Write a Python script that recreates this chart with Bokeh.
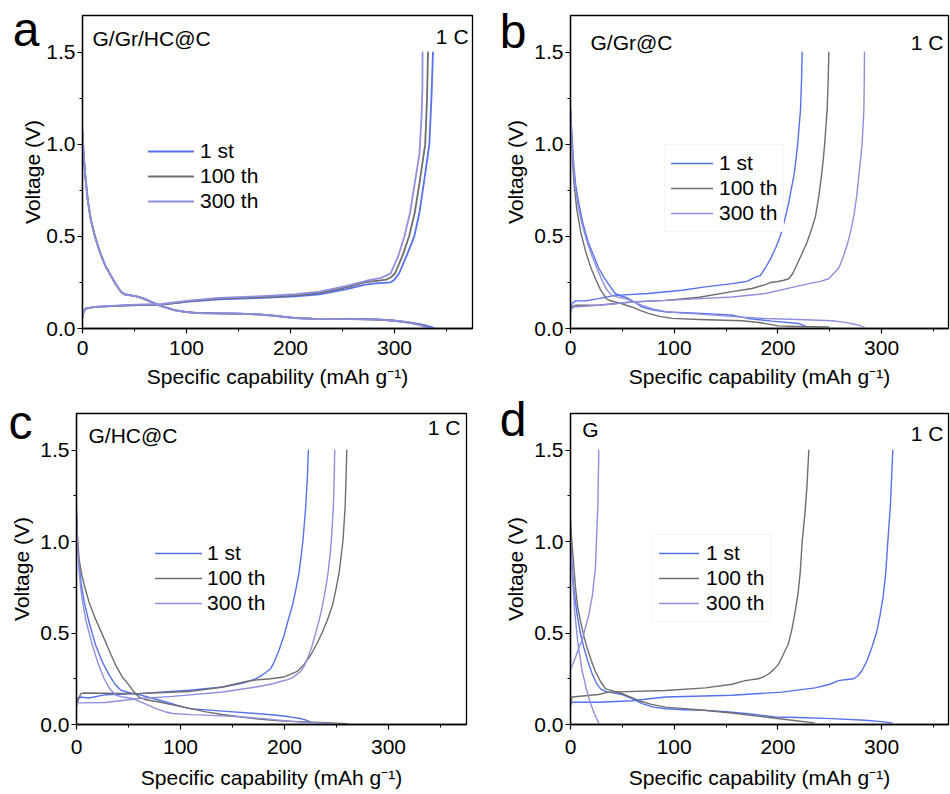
from bokeh.plotting import figure
from bokeh.models import (Range1d, FixedTicker, PrintfTickFormatter, Label, LinearAxis,
                          Legend, LegendItem, ColumnDataSource)
from bokeh.layouts import row, column
from bokeh.embed import file_html
from bokeh.resources import INLINE

FONT = "Liberation Sans"
SERIES = ["1 st", "100 th", "300 th"]
COLORS = ["#5672F0", "#6E6E6E", "#8F90DD"]
X_TICKS = [0, 100, 200, 300]
X_MINOR = [50, 150, 250, 350]
Y_TICKS = [0.0, 0.5, 1.0, 1.5]
Y_MINOR = [0.25, 0.75, 1.25]
X_LABEL = "Specific capability (mAh g\u207b\u00b9)"
Y_LABEL = "Voltage (V)"

# ---------------- panel a : G/Gr/HC@C ----------------
a_1st_dis = [(0, 1.07), (1, 0.95), (2.5, 0.84), (5, 0.70), (8, 0.59), (12, 0.50), (17, 0.41), (22, 0.34),
             (27, 0.29), (32, 0.24), (37, 0.20), (40, 0.187), (46, 0.181), (52, 0.175), (58, 0.165),
             (64, 0.15), (70, 0.135), (77, 0.12), (89, 0.10), (100, 0.09), (110, 0.085), (150, 0.081),
             (170, 0.077), (185, 0.07), (195, 0.063), (205, 0.057), (221, 0.054), (260, 0.052),
             (285, 0.049), (300, 0.043), (311, 0.036), (320, 0.028), (328, 0.02), (337, 0.005)]
a_100_dis = [(0, 1.07), (1, 0.95), (2.5, 0.84), (5, 0.70), (8, 0.59), (12, 0.50), (17, 0.41), (22, 0.34),
             (27, 0.29), (32, 0.24), (37, 0.20), (40, 0.186), (46, 0.18), (52, 0.174), (58, 0.164),
             (64, 0.149), (70, 0.134), (77, 0.119), (89, 0.099), (100, 0.089), (110, 0.084), (150, 0.08),
             (170, 0.076), (185, 0.069), (195, 0.062), (205, 0.056), (221, 0.053), (260, 0.051),
             (285, 0.048), (300, 0.042), (311, 0.034), (320, 0.026), (327, 0.017), (333, 0.005)]
a_300_dis = [(0, 1.07), (1, 0.95), (2.5, 0.84), (5, 0.70), (8, 0.59), (12, 0.50), (17, 0.41), (22, 0.34),
             (27, 0.29), (32, 0.24), (37, 0.20), (40, 0.186), (46, 0.18), (52, 0.174), (58, 0.164),
             (64, 0.149), (70, 0.134), (77, 0.119), (89, 0.099), (100, 0.089), (110, 0.084), (150, 0.08),
             (170, 0.076), (185, 0.069), (195, 0.062), (205, 0.056), (221, 0.053), (260, 0.051),
             (285, 0.048), (300, 0.042), (311, 0.034), (319, 0.025), (326, 0.015), (332, 0.005)]
a_1st_chg = [(0, 0.06), (1, 0.09), (3, 0.108), (12, 0.117), (44, 0.126), (76, 0.13), (102, 0.146),
             (131, 0.158), (173, 0.166), (205, 0.174), (228, 0.185), (253, 0.212), (272, 0.238),
             (282, 0.245), (296, 0.25), (300, 0.265), (304.5, 0.3), (312, 0.4), (319, 0.5), (324, 0.63),
             (328.5, 0.8), (333.5, 1.0), (335.5, 1.25), (337, 1.5)]
a_100_chg = [(0, 0.06), (1, 0.09), (3, 0.108), (12, 0.117), (44, 0.126), (76, 0.13), (102, 0.148),
             (131, 0.162), (173, 0.171), (205, 0.18), (228, 0.193), (253, 0.222), (272, 0.252),
             (285, 0.26), (292, 0.265), (297, 0.28), (300.6, 0.3), (308, 0.4), (314, 0.5), (319.5, 0.63),
             (324.3, 0.8), (329.5, 1.0), (331.3, 1.25), (332.2, 1.5)]
a_300_chg = [(0, 0.06), (1, 0.09), (3, 0.108), (12, 0.118), (44, 0.128), (76, 0.133), (102, 0.151),
             (131, 0.166), (173, 0.176), (205, 0.186), (228, 0.2), (253, 0.23), (272, 0.258),
             (282, 0.27), (287, 0.275), (293, 0.29), (296.4, 0.3), (304, 0.4), (309.5, 0.5), (315, 0.63),
             (319.8, 0.8), (324, 0.95), (326, 1.15), (326.8, 1.3), (327, 1.5)]

# ---------------- panel b : G/Gr@C ----------------
b_1st_dis = [(0, 1.18), (1.5, 1.05), (3, 0.9), (5, 0.78), (8, 0.68), (12, 0.57), (17, 0.47), (22, 0.40),
             (27, 0.33), (32, 0.28), (38, 0.23), (43, 0.19), (48, 0.178), (53, 0.17), (59, 0.153),
             (64, 0.135), (69, 0.117), (80, 0.1), (91.5, 0.09), (117, 0.085), (140, 0.078), (156, 0.072),
             (165, 0.062), (172, 0.054), (194, 0.04), (220, 0.027), (226, 0.014)]
b_100_dis = [(0, 1.2), (1, 1.05), (2, 0.9), (3.5, 0.78), (6, 0.65), (10, 0.52), (14.5, 0.42), (19, 0.34),
             (24, 0.27), (29, 0.21), (35, 0.16), (40, 0.148), (46.5, 0.139), (59, 0.117), (67, 0.098),
             (75, 0.082), (86, 0.066), (98, 0.055), (124, 0.049), (165, 0.042), (180, 0.034),
             (190, 0.025), (200, 0.014), (220, 0.011), (249, 0.008)]
b_300_dis = [(0, 1.18), (1, 1.05), (2.5, 0.9), (4.5, 0.77), (7.5, 0.66), (11, 0.57), (16, 0.47), (21, 0.39),
             (26, 0.32), (30.5, 0.26), (35, 0.21), (40, 0.18), (46, 0.17), (53, 0.162), (61, 0.145),
             (69, 0.126), (80, 0.105), (91.5, 0.092), (105, 0.085), (124, 0.078), (162, 0.063),
             (188, 0.054), (220, 0.049), (252, 0.042), (265, 0.033), (275, 0.022), (283, 0.009)]
b_1st_chg = [(0, 0.08), (1, 0.12), (2, 0.14), (4.8, 0.15), (14.4, 0.15), (27, 0.162), (43, 0.18), (75, 0.19),
             (107.5, 0.208), (130, 0.226), (156, 0.244), (163, 0.25), (170, 0.256), (175, 0.27),
             (179, 0.28), (183.2, 0.289), (188, 0.33), (192.9, 0.378), (198, 0.44), (202.5, 0.505),
             (207, 0.6), (210.5, 0.685), (213, 0.76), (215.4, 0.83), (217.5, 0.92), (219.2, 1.01),
             (221.8, 1.19), (222.8, 1.35), (223.4, 1.5)]
b_100_chg = [(0, 0.09), (1, 0.115), (4.8, 0.126), (27, 0.126), (59, 0.144), (91.5, 0.153), (124, 0.17),
             (156, 0.2), (175, 0.217), (188, 0.238), (192.9, 0.25), (200, 0.255), (205.7, 0.262),
             (210.5, 0.27), (214.5, 0.3), (218.6, 0.35), (223.5, 0.41), (228.2, 0.47), (232.5, 0.54),
             (236.3, 0.61), (239.5, 0.72), (242, 0.83), (243.8, 0.92), (245.2, 1.01), (247.5, 1.19),
             (248.5, 1.35), (249.1, 1.5)]
b_300_chg = [(0, 0.1), (3.2, 0.117), (27, 0.126), (59, 0.144), (107.5, 0.157), (156, 0.171), (188, 0.19),
             (215, 0.225), (231, 0.245), (241, 0.256), (249, 0.27), (254, 0.3), (258.8, 0.33),
             (263, 0.39), (266.8, 0.455), (270.3, 0.53), (273.2, 0.61), (276, 0.72), (278, 0.83),
             (279.8, 0.92), (281.3, 1.01), (282.9, 1.19), (283.3, 1.35), (283.5, 1.5)]

# ---------------- panel c : G/HC@C ----------------
c_1st_dis = [(0, 1.18), (1, 1.0), (2.5, 0.87), (4.5, 0.77), (7.4, 0.67), (12, 0.56), (18.6, 0.43), (25, 0.34),
             (31.5, 0.27), (37, 0.22), (42.7, 0.187), (50, 0.175), (60, 0.163), (72, 0.145), (86, 0.123),
             (98, 0.103), (108.5, 0.087), (125, 0.08), (140.6, 0.073), (172.7, 0.06), (190, 0.052),
             (205, 0.042), (215, 0.033), (221, 0.024), (225.5, 0.011)]
c_100_dis = [(0, 1.15), (1, 1.02), (2.6, 0.9), (5, 0.82), (8, 0.75), (12, 0.67), (18, 0.58), (25, 0.49),
             (31, 0.41), (38, 0.32), (44, 0.26), (50.7, 0.214), (55, 0.18), (60, 0.15), (67, 0.135),
             (79.6, 0.123), (90, 0.11), (102, 0.096), (124.6, 0.069), (140, 0.055), (156.7, 0.042),
             (175, 0.03), (195, 0.02), (221, 0.0145), (240, 0.01), (260, 0.005)]
c_300_dis = [(0, 1.1), (1, 0.98), (2.5, 0.84), (4, 0.75), (5.8, 0.67), (9, 0.57), (15.4, 0.43), (21, 0.33),
             (26.6, 0.25), (32, 0.195), (38, 0.16), (45, 0.15), (54, 0.142), (65, 0.115), (76.4, 0.087),
             (85, 0.07), (92.5, 0.06), (110, 0.054), (124.6, 0.051), (156.7, 0.042), (180, 0.032),
             (195, 0.024), (210, 0.016), (221, 0.011), (246.5, 0.004)]
c_1st_chg = [(0, 0.1), (1, 0.14), (2.6, 0.15), (12, 0.145), (28, 0.163), (60, 0.169), (108.5, 0.187),
             (140.6, 0.205), (156.7, 0.223), (165, 0.235), (171, 0.247), (176, 0.26), (181, 0.28),
             (186.7, 0.305), (190, 0.34), (195, 0.41), (199.5, 0.486), (203.5, 0.57), (207.6, 0.65),
             (211, 0.74), (214, 0.83), (216, 0.92), (217.8, 1.01), (220.4, 1.19), (222, 1.35), (223, 1.5)]
c_100_chg = [(0, 0.1), (2, 0.14), (4.2, 0.169), (7.4, 0.172), (60, 0.169), (108.5, 0.18), (140.6, 0.205),
             (163, 0.236), (175, 0.245), (186.7, 0.25), (199.5, 0.26), (206, 0.275), (212.4, 0.29),
             (219, 0.33), (225.2, 0.38), (231, 0.44), (236.5, 0.506), (241.5, 0.575), (246.1, 0.65),
             (249.5, 0.74), (252.5, 0.83), (254.5, 0.92), (256.3, 1.01), (258.3, 1.19), (259.2, 1.35),
             (259.9, 1.5)]
c_300_chg = [(0, 0.11), (1, 0.118), (28, 0.12), (60, 0.142), (92.5, 0.154), (140.6, 0.178), (172.7, 0.205),
             (188.8, 0.223), (196.3, 0.235), (203, 0.245), (207.6, 0.255), (211, 0.27), (215.6, 0.29),
             (219, 0.32), (222, 0.36), (226, 0.42), (230, 0.5), (233.5, 0.575), (236.5, 0.65),
             (239.5, 0.74), (241.9, 0.83), (243.7, 0.92), (245.1, 1.01), (247, 1.19), (247.8, 1.35),
             (248.3, 1.5)]

# ---------------- panel d : G ----------------
d_1st_dis = [(0, 1.0), (1.5, 0.87), (3.2, 0.745), (6.4, 0.6), (9.5, 0.5), (12.9, 0.42), (17, 0.34), (21, 0.276),
             (25, 0.225), (29, 0.195), (33, 0.182), (37, 0.177), (50, 0.164), (60, 0.14), (69, 0.114),
             (80, 0.095), (91.5, 0.086), (110, 0.081), (130, 0.077), (150, 0.07), (171.7, 0.059),
             (197.4, 0.041), (220, 0.038), (252, 0.032), (284, 0.023), (300, 0.016), (310, 0.009)]
d_100_dis = [(0, 1.12), (1, 1.02), (2.3, 0.93), (4.8, 0.75), (7, 0.64), (9.6, 0.565), (13, 0.48), (16, 0.42),
             (20, 0.35), (24, 0.29), (29, 0.235), (33.8, 0.195), (40, 0.185), (50, 0.168), (58, 0.15),
             (66, 0.13), (78, 0.11), (91.5, 0.095), (110, 0.087), (123.6, 0.081), (155.7, 0.063),
             (187.8, 0.041), (213.5, 0.023), (235, 0.009)]
d_300_dis = [(0, 0.95), (2, 0.8), (4, 0.62), (7, 0.45), (11, 0.3), (15, 0.2), (19, 0.12), (23, 0.06),
             (27.5, 0.005)]
d_1st_chg = [(0, 0.105), (1.6, 0.122), (27, 0.122), (59, 0.13), (91.5, 0.15), (155.7, 0.16), (204, 0.177),
             (236, 0.2), (250, 0.22), (258.4, 0.24), (265, 0.245), (273, 0.25), (277, 0.265), (281, 0.294),
             (286, 0.35), (290.5, 0.42), (295, 0.5), (298.6, 0.6), (301.5, 0.7), (304, 0.83), (306, 1.0),
             (308.5, 1.2), (310.8, 1.5)]
d_100_chg = [(0, 0.11), (1.6, 0.15), (27, 0.164), (37, 0.177), (91.5, 0.186), (130, 0.2), (155.7, 0.22),
             (168.5, 0.24), (181, 0.25), (186, 0.26), (191, 0.276), (196, 0.3), (200.6, 0.33), (205, 0.38),
             (210, 0.44), (213.5, 0.52), (216.7, 0.62), (219.5, 0.72), (221.5, 0.83), (223.4, 1.0),
             (226, 1.15), (228, 1.3), (229.8, 1.5)]
d_300_chg = [(0, 0.3), (4.8, 0.366), (8, 0.42), (11.25, 0.46), (14.4, 0.53), (17.7, 0.6), (21, 0.7),
             (22.5, 0.78), (24, 0.85), (25, 1.0), (26.4, 1.2), (27.3, 1.5)]

PANELS = [
    dict(letter="a", name="G/Gr/HC@C",
         curves=[(a_1st_dis, a_1st_chg), (a_100_dis, a_100_chg), (a_300_dis, a_300_chg)],
         w=490, h=392, bl=82, br=18, bt=14, bb=64, fh=314, x_end=375, lw=1.8, tstd=7, xstd=7,
         ystd=-1, lstd=-21,
         letter_v=1.651, name_xy=(9.6, 1.575), rate_xy=(371.2, 1.586),
         leg=dict(gx=66, ty=137, gw=46, st=6, border=None)),
    dict(letter="b", name="G/Gr@C",
         curves=[(b_1st_dis, b_1st_chg), (b_100_dis, b_100_chg), (b_300_dis, b_300_chg)],
         w=460, h=392, bl=80, br=2, bt=15, bb=62, fh=315, x_end=364.5, lw=1.4, tstd=7, xstd=7,
         ystd=4, lstd=-25,
         letter_v=1.614, name_xy=(19.3, 1.556), rate_xy=(359.7, 1.556),
         leg=dict(gx=100, ty=151, gw=42, st=6, border="#ececec")),
    dict(letter="c", name="G/HC@C",
         curves=[(c_1st_dis, c_1st_chg), (c_100_dis, c_100_chg), (c_300_dis, c_300_chg)],
         w=490, h=402, bl=76, br=24, bt=21, bb=68, fh=313, x_end=375, lw=1.4, tstd=10, xstd=9,
         ystd=4, lstd=-25,
         letter_v=1.689, name_xy=(11.5, 1.58), rate_xy=(369.2, 1.621),
         leg=dict(gx=79, ty=142, gw=47, st=5, border=None)),
    dict(letter="d", name="G",
         curves=[(d_1st_dis, d_1st_chg), (d_100_dis, d_100_chg), (d_300_dis, d_300_chg)],
         w=460, h=402, bl=80, br=2, bt=18, bb=70, fh=314, x_end=364.5, lw=1.4, tstd=10, xstd=9,
         ystd=4, lstd=-25,
         letter_v=1.673, name_xy=(11.3, 1.613), rate_xy=(359.7, 1.592),
         leg=dict(gx=88, ty=144, gw=40, st=7, border="#ececec")),
]

TXT = "21px"


def make_panel(cfg):
    p = figure(width=cfg["w"], height=cfg["h"], output_backend="svg", toolbar_location=None,
               x_range=Range1d(0, cfg["x_end"]), y_range=Range1d(0, 1.7),
               min_border_left=cfg["bl"], min_border_right=cfg["br"],
               min_border_top=cfg["bt"], min_border_bottom=cfg["bb"])
    p.xgrid.visible = False
    p.ygrid.visible = False
    p.outline_line_color = "black"
    p.outline_line_width = 1.3
    p.outline_line_alpha = 1.0
    p.background_fill_color = "white"
    p.border_fill_color = "white"

    for ax in (p.xaxis[0], p.yaxis[0]):
        ax.axis_line_width = 1.3
        ax.axis_line_color = "black"
        ax.major_tick_line_color = "black"
        ax.minor_tick_line_color = "black"
        ax.major_tick_line_width = 1.2
        ax.minor_tick_line_width = 1.0
        ax.major_tick_in = 0
        ax.major_tick_out = 5
        ax.minor_tick_in = 0
        ax.minor_tick_out = 3
        ax.major_label_text_font = FONT
        ax.major_label_text_font_size = TXT
        ax.major_label_text_color = "black"
        ax.axis_label_text_font = FONT
        ax.axis_label_text_font_size = TXT
        ax.axis_label_text_font_style = "normal"
        ax.axis_label_text_color = "black"

    p.xaxis.ticker = FixedTicker(ticks=X_TICKS, minor_ticks=X_MINOR)
    p.yaxis.ticker = FixedTicker(ticks=Y_TICKS, minor_ticks=Y_MINOR)
    p.yaxis.formatter = PrintfTickFormatter(format="%.1f")
    p.xaxis.axis_label = X_LABEL
    p.yaxis.axis_label = Y_LABEL
    p.xaxis.major_label_standoff = cfg["tstd"]
    p.xaxis.axis_label_standoff = cfg["xstd"]
    p.yaxis.major_label_standoff = 2
    p.yaxis.axis_label_standoff = cfg["ystd"]

    # panel letter, shown as the only label of an extra (line-less) left axis
    lv = cfg["letter_v"]
    lax = LinearAxis(ticker=FixedTicker(ticks=[lv], minor_ticks=[]),
                     major_label_overrides={lv: cfg["letter"]},
                     axis_line_color=None, major_tick_line_color=None, minor_tick_line_color=None,
                     major_tick_in=0, major_tick_out=0, minor_tick_in=0, minor_tick_out=0,
                     major_label_standoff=cfg["lstd"], major_label_text_font=FONT,
                     major_label_text_font_size="48px", major_label_text_color="black")
    p.add_layout(lax, "left")

    items = []
    for name, color, (dis, chg) in zip(SERIES, COLORS, cfg["curves"]):
        rs = []
        for seg in (dis, chg):
            src = ColumnDataSource(data=dict(x=[pt[0] for pt in seg], v=[pt[1] for pt in seg]))
            r = p.line("x", "v", source=src, line_color=color, line_width=cfg["lw"],
                       line_join="round", line_cap="round")
            rs.append(r)
        items.append(LegendItem(label=name, renderers=[rs[0]]))

    lg = cfg["leg"]
    pad, item_h, spacing = 6, 24, 1
    box_h = 2 * pad + 3 * item_h + 2 * spacing
    box_top = lg["ty"] - item_h / 2 - pad
    vx = lg["gx"] - pad
    vy = cfg["fh"] - box_top - box_h
    legend = Legend(items=items, location=(vx, vy), padding=pad, spacing=spacing, margin=0,
                    glyph_width=lg["gw"], glyph_height=20, label_height=20,
                    label_standoff=lg["st"], label_text_font=FONT, label_text_font_size=TXT,
                    label_text_color="black", background_fill_color="white",
                    background_fill_alpha=1.0)
    if lg["border"] is None:
        legend.border_line_alpha = 0
    else:
        legend.border_line_color = lg["border"]
        legend.border_line_width = 1
    p.add_layout(legend)

    nx, ny = cfg["name_xy"]
    p.add_layout(Label(x=nx, y=ny, text=cfg["name"], text_font=FONT, text_font_size=TXT,
                       text_color="black", text_align="left", text_baseline="middle"))
    rx, ry = cfg["rate_xy"]
    p.add_layout(Label(x=rx, y=ry, text="1 C", text_font=FONT, text_font_size=TXT,
                       text_color="black", text_align="right", text_baseline="middle"))
    return p


figs = [make_panel(c) for c in PANELS]
layout = column(row(figs[0], figs[1]), row(figs[2], figs[3]))

open("out.html", "w").write(file_html(layout, INLINE))
